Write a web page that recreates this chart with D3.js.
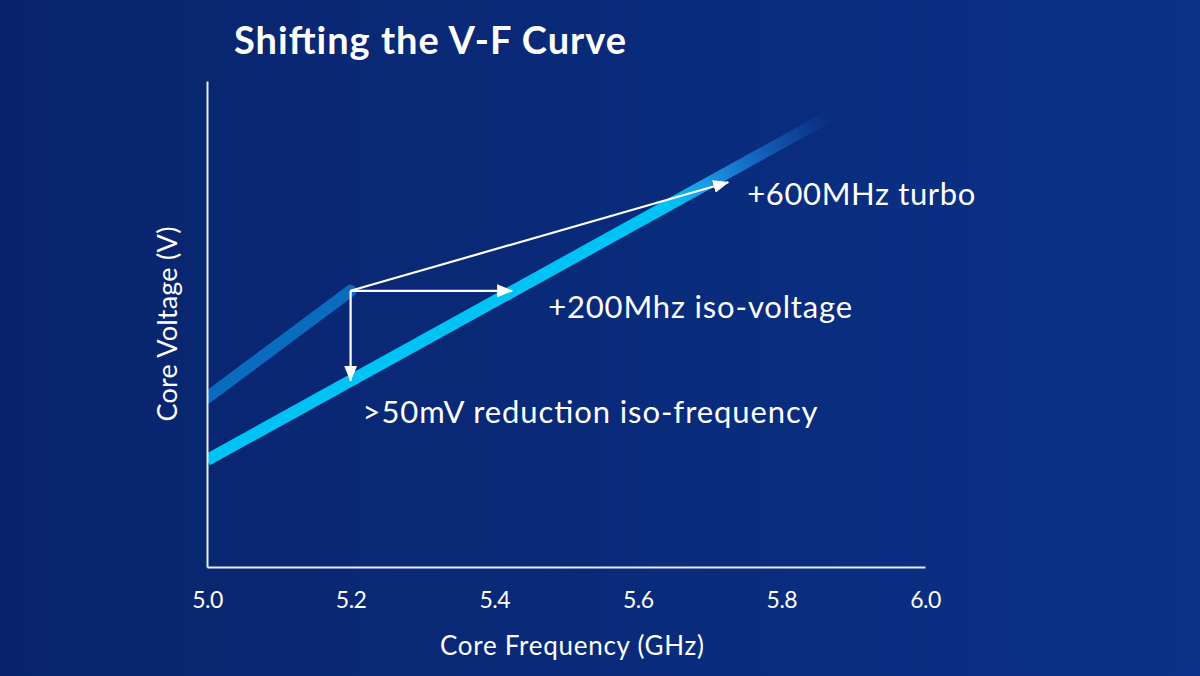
<!DOCTYPE html>
<html>
<head>
<meta charset="utf-8">
<script src="https://cdn.jsdelivr.net/npm/d3@7"></script>
<style>
  html, body { margin: 0; padding: 0; background: #0a2a78; }
  svg { display: block; }
</style>
</head>
<body>
<div id="chart"></div>
<script>
// Chart data (frequency in GHz, voltage in V - the voltage axis has no ticks)
const freqTicks = [5.0, 5.2, 5.4, 5.6, 5.8, 6.0];
const oldCurve = [[5.0, 1.109], [5.2, 1.241]];
const newCurve = [[5.0, 1.032], [5.868, 1.457]];
const arrowStart = [5.2, 1.241];
const arrowEnds = {
    turbo: [5.726, 1.375],
    isoVoltage: [5.425, 1.241],
    isoFrequency: [5.2, 1.13]
};
const labels = {
    turbo: "+600MHz turbo",
    isoVoltage: "+200Mhz iso-voltage",
    isoFrequency: ">50mV reduction iso-frequency"
};
const title = "Shifting the V-F Curve";
const xTitle = "Core Frequency (GHz)";
const yTitle = "Core Voltage (V)";

const width = 1200;
const height = 676;
const font = "Lato, 'Open Sans', sans-serif";

const svg = d3.select("#chart")
    .append("svg")
        .attr("width", width)
        .attr("height", height)
        .attr("viewBox", [0, 0, width, height]);

const defs = svg.append("defs");

// background
const bg = defs.append("linearGradient")
    .attr("id", "bg")
    .attr("x1", "0%").attr("x2", "100%").attr("y1", "0%").attr("y2", "0%");
bg.append("stop").attr("offset", "0%").attr("stop-color", "#09246d");
bg.append("stop").attr("offset", "100%").attr("stop-color", "#0a3187");

svg.append("rect")
    .attr("width", width)
    .attr("height", height)
    .attr("fill", "url(#bg)");

// scales
const x = d3.scaleLinear().domain([5.0, 6.0]).range([207, 925]);
const y = d3.scaleLinear().domain([0.9, 1.5]).range([567, 81]);

// clip so the curves start exactly at the y axis
defs.append("clipPath")
    .attr("id", "plot")
  .append("rect")
    .attr("x", x(5.0))
    .attr("y", 0)
    .attr("width", width)
    .attr("height", y(0.9));

// the new curve fades out towards the top end
const fade = defs.append("linearGradient")
    .attr("id", "fade")
    .attr("gradientUnits", "userSpaceOnUse")
    .attr("x1", x(newCurve[0][0])).attr("y1", y(newCurve[0][1]))
    .attr("x2", x(newCurve[1][0])).attr("y2", y(newCurve[1][1]));
[
    [0, "#00c3f5", 1],
    [0.74, "#00c3f5", 1],
    [0.8, "#1a9be6", 1],
    [0.88, "#1670c9", 0.85],
    [1, "#1460c0", 0]
].forEach(s => fade.append("stop")
    .attr("offset", s[0])
    .attr("stop-color", s[1])
    .attr("stop-opacity", s[2]));

const line = d3.line()
    .x(d => x(d[0]))
    .y(d => y(d[1]));

const curves = svg.append("g").attr("clip-path", "url(#plot)");

curves.append("path")
    .datum(oldCurve)
    .attr("d", line)
    .attr("fill", "none")
    .attr("stroke", "#0a6cbe")
    .attr("stroke-width", 12)
    .attr("stroke-linecap", "round");

curves.append("path")
    .datum(newCurve)
    .attr("d", line)
    .attr("fill", "none")
    .attr("stroke", "url(#fade)")
    .attr("stroke-width", 12);

// axes
const xAxis = svg.append("g")
    .attr("transform", `translate(0,${y(0.9)})`)
    .call(d3.axisBottom(x)
        .tickValues(freqTicks)
        .tickFormat(d3.format(".1f"))
        .tickSize(0)
        .tickPadding(25));

const yAxis = svg.append("g")
    .attr("transform", `translate(${x(5.0)},0)`)
    .call(d3.axisLeft(y).tickValues([]).tickSize(0));

[xAxis, yAxis].forEach(a => a.select(".domain")
    .attr("stroke", "#e8ecf5")
    .attr("stroke-width", 2));

xAxis.selectAll(".tick text")
    .attr("fill", "#ffffff")
    .attr("font-family", font)
    .attr("font-size", 23)
    .attr("letter-spacing", -0.5)
    .attr("dy", "0.71em");

// arrows
defs.append("marker")
    .attr("id", "head")
    .attr("markerUnits", "userSpaceOnUse")
    .attr("viewBox", "0 0 16 13")
    .attr("markerWidth", 16)
    .attr("markerHeight", 13)
    .attr("refX", 15)
    .attr("refY", 6.5)
    .attr("orient", "auto")
  .append("path")
    .attr("d", "M0,0L16,6.5L0,13Z")
    .attr("fill", "#ffffff");

const arrows = svg.append("g");
Object.keys(arrowEnds).forEach(k => {
    arrows.append("path")
        .datum([arrowStart, arrowEnds[k]])
        .attr("d", line)
        .attr("fill", "none")
        .attr("stroke", "#ffffff")
        .attr("stroke-width", 2.2)
        .attr("marker-end", "url(#head)");
});

// annotations
const notes = [
    { key: "turbo", dx: 19, dy: 23, len: 228 },
    { key: "isoVoltage", dx: 36, dy: 27, len: 304 },
    { key: "isoFrequency", dx: 12, dy: 42, len: 455 }
];
svg.append("g")
    .selectAll("text")
    .data(notes)
    .join("text")
        .attr("x", d => x(arrowEnds[d.key][0]) + d.dx)
        .attr("y", d => y(arrowEnds[d.key][1]) + d.dy)
        .attr("fill", "#ffffff")
        .attr("font-family", font)
        .attr("font-size", 31)
        .attr("textLength", d => d.len)
        .attr("lengthAdjust", "spacing")
        .text(d => labels[d.key]);

// titles
svg.append("text")
    .attr("x", 234)
    .attr("y", 54)
    .attr("fill", "#ffffff")
    .attr("font-family", font)
    .attr("font-weight", 700)
    .attr("font-size", 38)
    .attr("textLength", 392)
    .attr("lengthAdjust", "spacing")
    .text(title);

svg.append("text")
    .attr("x", (x.range()[0] + x.range()[1]) / 2 + 6)
    .attr("y", 655)
    .attr("text-anchor", "middle")
    .attr("fill", "#ffffff")
    .attr("font-family", font)
    .attr("font-size", 26)
    .attr("textLength", 264)
    .attr("lengthAdjust", "spacing")
    .text(xTitle);

svg.append("text")
    .attr("transform", `translate(177,${(y.range()[0] + y.range()[1]) / 2}) rotate(-90)`)
    .attr("text-anchor", "middle")
    .attr("fill", "#ffffff")
    .attr("font-family", font)
    .attr("font-size", 27)
    .attr("textLength", 195)
    .attr("lengthAdjust", "spacing")
    .text(yTitle);
</script>
</body>
</html>
